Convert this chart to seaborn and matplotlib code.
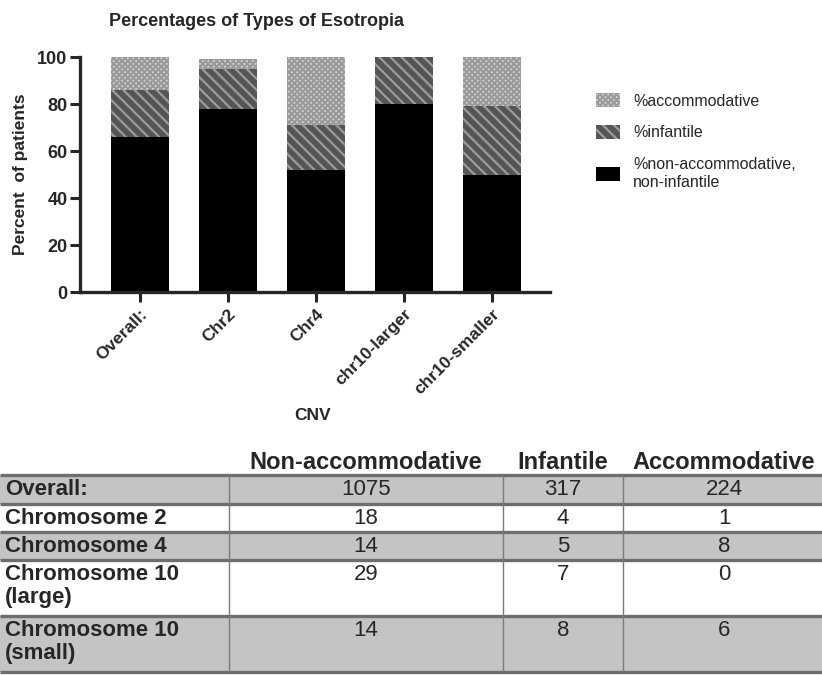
import matplotlib
matplotlib.use("Agg")
import matplotlib.pyplot as plt
import seaborn as sns
import pandas as pd
import numpy as np

# values (percent of patients)
cnv = ["Overall:", "Chr2", "Chr4", "chr10-larger", "chr10-smaller"]
pct_nonacc = [66, 78, 52, 80, 50]
pct_infantile = [20, 17, 19, 20, 29]
pct_accomm = [14, 4, 29, 0, 21]

# table below the chart (counts)
row_labels = ["Overall:", "Chromosome 2", "Chromosome 4", "Chromosome 10\n(large)", "Chromosome 10\n(small)"]
col_labels = ["Non-accommodative", "Infantile", "Accommodative"]
n_nonacc = [1075, 18, 14, 29, 14]
n_infantile = [317, 4, 5, 7, 8]
n_accomm = [224, 1, 8, 0, 6]

sns.set_style("ticks")
plt.rcParams["font.family"] = ["Liberation Sans", "DejaVu Sans"]
plt.rcParams["hatch.linewidth"] = 1.6

df = pd.DataFrame({"cnv": cnv, "nonacc": pct_nonacc, "inf": pct_infantile, "acc": pct_accomm})
df["top_inf"] = df["nonacc"] + df["inf"]
df["top_acc"] = df["top_inf"] + df["acc"]

W, H = 822, 675
fig = plt.figure(figsize=(W / 100, H / 100), dpi=100)
ax = fig.add_axes([80 / W, 1 - 292 / H, 470 / W, 235 / H])

layers = [("top_acc", "#dcdcdc", "#9a9a9a", "xxxxxx", "%accommodative"),
          ("top_inf", "#555555", "#9c9c9c", "\\\\\\", "%infantile"),
          ("nonacc", "black", "black", None, "%non-accommodative,\nnon-infantile")]
handles = []
for col, fc, hc, hatch, lab in layers:
    n0 = len(ax.patches)
    sns.barplot(data=df, x="cnv", y=col, color=fc, width=0.66, ax=ax,
                saturation=1, errorbar=None)
    for p in ax.patches[n0:]:
        p.set_facecolor(fc)
        p.set_edgecolor(hc)
        p.set_linewidth(0)
        if hatch:
            p.set_hatch(hatch)
    h = matplotlib.patches.Patch(facecolor=fc, edgecolor=hc, hatch=hatch, linewidth=0, label=lab)
    handles.append(h)

ax.set_xlim(-0.68, 4.66)
ax.set_ylim(0, 100)
ax.set_yticks([0, 20, 40, 60, 80, 100])
sns.despine(ax=ax)
for s in ["left", "bottom"]:
    ax.spines[s].set_linewidth(2.4)
ax.tick_params(width=2.2, length=7, labelsize=13)
ax.tick_params(axis="y", pad=2)
for t in ax.get_yticklabels():
    t.set_fontweight("bold")
ax.set_xticks(range(len(cnv)))
ax.set_xticklabels(cnv, rotation=45, ha="right", rotation_mode="anchor", fontweight="bold", fontsize=12.5)
ax.set_ylabel("Percent  of patients", fontweight="bold", fontsize=12.5, labelpad=7)
ax.set_xlabel("")
fig.text(313 / W, 1 - 415 / H, "CNV", ha="center", va="center", fontweight="bold", fontsize=12.5)
fig.text(256 / W, 1 - 22 / H, "Percentages of Types of Esotropia", ha="center", va="center",
         fontweight="bold", fontsize=13)

leg = fig.legend(handles=handles, loc="upper left", bbox_to_anchor=(590 / W, 1 - 87 / H),
                 frameon=False, fontsize=11.5, handlelength=1.5, handleheight=0.9,
                 labelspacing=1.05, handletextpad=0.8, borderaxespad=0)

# table
tax = fig.add_axes([0, 0, 1, 1], zorder=-1)
tax.set_xlim(0, W)
tax.set_ylim(H, 0)
tax.axis("off")
edges = [475, 504, 532, 560, 616, 672]
grey = [True, False, True, False, True]
for i in range(len(row_labels)):
    if grey[i]:
        tax.axhspan(edges[i], edges[i + 1], color="#c4c4c4", lw=0)
tax.hlines(edges, 0, W, color="#6e6e6e", lw=2.4)
tax.vlines([229, 503, 623], edges[0], edges[-1], color="#7a7a7a", lw=1)
col_x = [366, 563, 724]
tfs = 16
for x, lab in zip(col_x, col_labels):
    tax.text(x, 469, lab, ha="center", va="baseline", fontsize=17, fontweight="bold")
for i, lab in enumerate(row_labels):
    y = edges[i] + 4
    tax.text(5, y, lab, ha="left", va="top", fontsize=tfs, fontweight="bold", linespacing=1.15)
    for x, vals in zip(col_x, [n_nonacc, n_infantile, n_accomm]):
        tax.text(x, y, str(vals[i]), ha="center", va="top", fontsize=tfs)

fig.savefig("out.png", dpi=100)
